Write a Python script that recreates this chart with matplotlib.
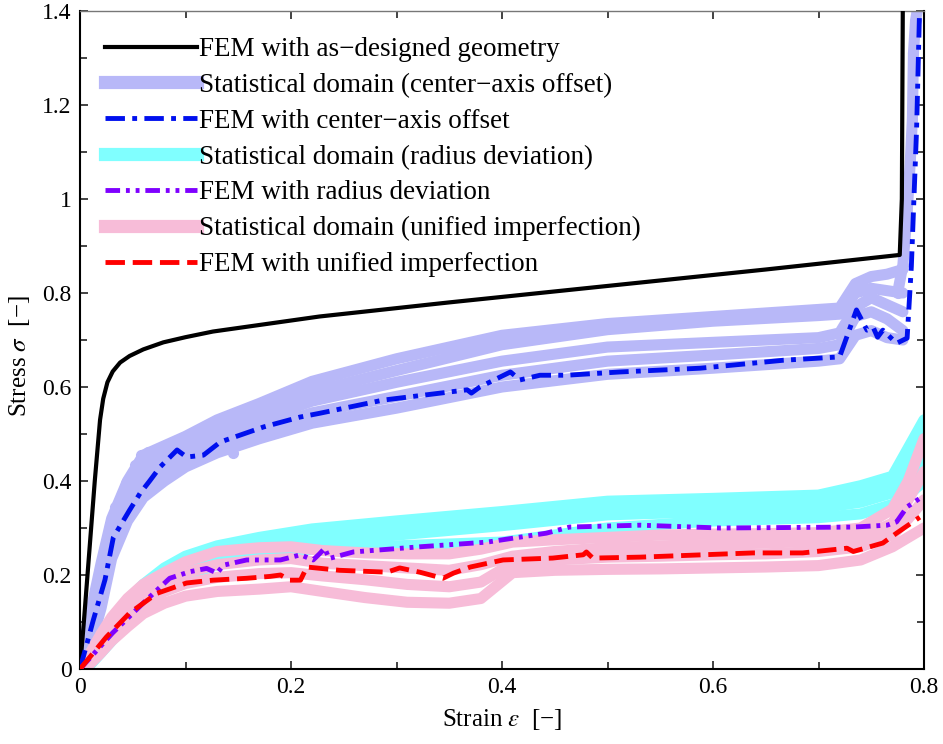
import matplotlib
matplotlib.use("Agg")
import matplotlib.pyplot as plt
from matplotlib.lines import Line2D
from matplotlib.ticker import MultipleLocator, FormatStrFormatter

plt.rcParams['font.family'] = ['Liberation Serif', 'DejaVu Serif']
plt.rcParams['mathtext.fontset'] = 'stix'

# --- FEM with as-designed geometry
design_strain = [0, 0.004, 0.014, 0.019, 0.022, 0.026, 0.031, 0.038, 0.047, 0.06, 0.079,
                 0.1, 0.126, 0.227, 0.35, 0.5, 0.65, 0.777, 0.779, 0.78]
design_stress = [0, 0.11, 0.40, 0.53, 0.575, 0.61, 0.633, 0.652, 0.666, 0.68, 0.695,
                 0.706, 0.718, 0.75, 0.78, 0.815, 0.85, 0.881, 1.0, 1.45]

# --- statistical domain, center-axis offset (several test curves)
lav_strain = [0, 0.01, 0.02, 0.03, 0.045, 0.06, 0.08, 0.1, 0.13, 0.17, 0.22, 0.3, 0.4,
              0.5, 0.6, 0.7, 0.72, 0.735, 0.75, 0.765, 0.78]
lav_1 = [0, .12, .225, .32, .40, .455, .475, .495, .53, .565, .612, .66, .71, .735, .75,
         .765, .768, .82, .835, .84, .85]
lav_2 = [0, .10, .20, .30, .375, .43, .46, .48, .515, .55, .59, .635, .69, .722, .74,
         .752, .755, .80, .81, .805, .80]
lav_3 = [0, .085, .18, .28, .355, .405, .44, .465, .495, .53, .57, .61, .655, .685, .695,
         .705, .715, .77, .79, .775, .76]
lav_4 = [0, .07, .16, .26, .335, .385, .42, .445, .478, .51, .545, .58, .625, .655, .668,
         .682, .69, .75, .76, .745, .72]
lav_5 = [0, .05, .13, .235, .315, .365, .40, .43, .46, .49, .523, .555, .60, .627, .64,
         .655, .66, .71, .72, .705, .70]
lav_tail_strain = [0.775, 0.78, 0.784, 0.787, 0.789, 0.79, 0.792, 0.795]
lav_tail_stress = [0.80, 0.86, 0.97, 1.08, 1.17, 1.31, 1.38, 1.42]
lav_dot_strain = [0.028, 0.033, 0.041, 0.044, 0.049, 0.052, 0.058, 0.064, 0.083, 0.145, 0.153]
lav_dot_stress = [0.306, 0.345, 0.37, 0.395, 0.412, 0.433, 0.455, 0.462, 0.476, 0.459, 0.483]

# --- FEM with center-axis offset
center_strain = [0, 0.0126, 0.0237, 0.0316, 0.047, 0.057, 0.066, 0.076, 0.092, 0.101,
                 0.117, 0.133, 0.174, 0.2085, 0.227, 0.287, 0.367, 0.371, 0.379, 0.398,
                 0.408, 0.417, 0.436, 0.461, 0.512, 0.588, 0.667, 0.72, 0.736, 0.746,
                 0.752, 0.756, 0.761, 0.774, 0.784, 0.788, 0.793, 0.796]
center_stress = [0, 0.104, 0.19, 0.28, 0.338, 0.374, 0.40, 0.43, 0.466, 0.451,
                 0.455, 0.483, 0.515, 0.536, 0.544, 0.572, 0.594, 0.587, 0.60, 0.621,
                 0.632, 0.615, 0.625, 0.625, 0.632, 0.64, 0.657, 0.664, 0.764, 0.721,
                 0.726, 0.706, 0.721, 0.693, 0.704, 0.856, 1.15, 1.42]

# --- statistical domain, radius deviation
cy_strain = [0, 0.01, 0.02, 0.03, 0.045, 0.06, 0.08, 0.1, 0.13, 0.17, 0.22, 0.3, 0.4,
             0.5, 0.6, 0.7, 0.74, 0.77, 0.785, 0.8]
cy_1 = [0, .035, .07, .10, .145, .18, .215, .24, .262, .28, .298, .315, .335, .357, .363,
        .37, .39, .41, .47, .53]
cy_2 = [0, .03, .062, .092, .135, .17, .205, .228, .25, .268, .285, .303, .322, .343, .35,
        .357, .37, .39, .43, .49]
cy_3 = [0, .02, .05, .08, .12, .155, .19, .212, .235, .252, .268, .285, .305, .328, .335,
        .342, .355, .375, .40, .45]
cy_4 = [0, .01, .035, .06, .10, .14, .175, .198, .222, .24, .255, .262, .27, .30, .315,
        .322, .33, .35, .37, .40]

# --- FEM with radius deviation
radius_strain = [0, 0.031, 0.063, 0.085, 0.104, 0.12, 0.13, 0.136, 0.158, 0.19, 0.209,
                 0.221, 0.227, 0.232, 0.236, 0.259, 0.322, 0.386, 0.442, 0.464, 0.531,
                 0.607, 0.733, 0.765, 0.774, 0.784, 0.796]
radius_stress = [0, 0.077, 0.147, 0.193, 0.207, 0.214, 0.204, 0.221, 0.232, 0.232, 0.243,
                 0.232, 0.245, 0.257, 0.235, 0.249, 0.26, 0.27, 0.289, 0.302, 0.306,
                 0.30, 0.302, 0.306, 0.313, 0.345, 0.363]

# --- statistical domain, unified imperfection
pk_strain = [0, 0.01, 0.02, 0.03, 0.045, 0.06, 0.08, 0.1, 0.13, 0.17, 0.2, 0.23, 0.27,
             0.31, 0.35, 0.38, 0.41, 0.45, 0.5, 0.55, 0.6, 0.65, 0.7, 0.74, 0.77, 0.785, 0.8]
pk_1 = [0, .035, .075, .11, .15, .18, .205, .228, .25, .258, .26, .252, .247, .245, .245,
        .255, .27, .275, .28, .285, .287, .288, .29, .30, .34, .40, .49]
pk_2 = [0, .028, .062, .095, .13, .16, .185, .205, .222, .232, .235, .225, .22, .215, .21,
        .222, .24, .25, .258, .262, .265, .268, .272, .28, .31, .36, .42]
pk_3 = [0, .02, .05, .08, .115, .14, .165, .182, .195, .203, .205, .198, .19, .18, .175,
        .185, .225, .232, .238, .24, .243, .245, .25, .26, .285, .32, .36]
pk_4 = [0, .012, .035, .06, .09, .118, .14, .155, .165, .17, .175, .165, .152, .142, .14,
        .15, .205, .21, .212, .213, .215, .217, .22, .232, .26, .28, .30]

# --- FEM with unified imperfection
unified_strain = [0, 0.025, 0.047, 0.073, 0.101, 0.126, 0.158, 0.18, 0.19, 0.199, 0.209,
                  0.215, 0.246, 0.291, 0.303, 0.322, 0.344, 0.354, 0.37, 0.401, 0.448,
                  0.477, 0.48, 0.486, 0.531, 0.638, 0.685, 0.727, 0.733, 0.761, 0.774, 0.796]
unified_stress = [0, 0.068, 0.119, 0.161, 0.183, 0.189, 0.193, 0.197, 0.20, 0.189, 0.189,
                  0.217, 0.21, 0.206, 0.215, 0.206, 0.193, 0.204, 0.217, 0.232, 0.236,
                  0.243, 0.249, 0.236, 0.238, 0.247, 0.247, 0.257, 0.25, 0.268, 0.289, 0.323]

labels = ["FEM with as\u2212designed geometry",
          "Statistical domain (center\u2212axis offset)",
          "FEM with center\u2212axis offset",
          "Statistical domain (radius deviation)",
          "FEM with radius deviation",
          "Statistical domain (unified imperfection)",
          "FEM with unified imperfection"]

c_lav = '#b8b8f8'
c_cyan = '#80ffff'
c_pink = '#f7bcd8'
c_blue = '#0010ee'
c_purple = '#7f00ff'
c_red = '#ff0000'

fig = plt.figure(figsize=(9.43, 7.44), dpi=100)
ax = fig.add_axes([80 / 943, 1 - 669 / 744, 844 / 943, 658 / 744])

band_kw = dict(lw=8, solid_capstyle='round', solid_joinstyle='round', zorder=2)
for s in [lav_1, lav_2, lav_3, lav_4, lav_5]:
    ax.plot(lav_strain, s, color=c_lav, **band_kw)
ax.plot(lav_tail_strain, lav_tail_stress, color=c_lav, marker='o', ms=7, **band_kw)
ax.plot(lav_dot_strain, lav_dot_stress, 'o', color=c_lav, ms=7, zorder=2)
for s in [cy_1, cy_2, cy_3, cy_4]:
    ax.plot(cy_strain, s, color=c_cyan, **band_kw)
for s in [pk_1, pk_2, pk_3, pk_4]:
    ax.plot(pk_strain, s, color=c_pink, **band_kw)

ax.plot(design_strain, design_stress, color='black', lw=3, zorder=5)
ax.plot(center_strain, center_stress, color=c_blue, lw=3.5, dashes=(4, 1.5, 1, 1.5), zorder=5)
ax.plot(radius_strain, radius_stress, color=c_purple, lw=3.5,
        dashes=(3, 1.2, 0.8, 1.2, 0.8, 1.2), zorder=5)
ax.plot(unified_strain, unified_stress, color=c_red, lw=3.5, dashes=(4, 1.6), zorder=6)

ax.set_xlim(0, 0.8)
ax.set_ylim(0, 1.4)
ax.xaxis.set_major_locator(MultipleLocator(0.2))
ax.xaxis.set_minor_locator(MultipleLocator(0.1))
ax.yaxis.set_major_locator(MultipleLocator(0.2))
ax.yaxis.set_minor_locator(MultipleLocator(0.1))
ax.xaxis.set_major_formatter(FormatStrFormatter('%g'))
ax.yaxis.set_major_formatter(FormatStrFormatter('%g'))
ax.tick_params(which='both', direction='in', top=True, right=True, width=1.2,
               labelsize=17, color='#222222')
ax.tick_params(which='major', length=6, pad=6)
ax.tick_params(which='minor', length=5)
for sp in ax.spines.values():
    sp.set_linewidth(1.5)
ax.spines['top'].set_color('#777777')
ax.spines['top'].set_linewidth(1.0)

ax.set_xlabel("Strain $\\varepsilon$  [\u2212]", fontsize=18, labelpad=6)
ax.set_ylabel("Stress $\\sigma$  [\u2212]", fontsize=18)
ax.yaxis.set_label_coords(-0.057, 0.475)

handles = [Line2D([], [], color='black', lw=3),
           Line2D([], [], color=c_lav, lw=9.5),
           Line2D([], [], color=c_blue, lw=3.5, dashes=(4, 1.5, 1, 1.5)),
           Line2D([], [], color=c_cyan, lw=9.5),
           Line2D([], [], color=c_purple, lw=3.5, dashes=(3, 1.2, 0.8, 1.2, 0.8, 1.2)),
           Line2D([], [], color=c_pink, lw=9.5),
           Line2D([], [], color=c_red, lw=3.5, dashes=(4, 1.6))]
ax.legend(handles, labels, loc='upper left', bbox_to_anchor=(0.01, 0.985), frameon=False,
          fontsize=19.5, handlelength=3.4, handletextpad=0.1, labelspacing=0.4,
          borderaxespad=0.2)

fig.savefig("out.png", dpi=100)
